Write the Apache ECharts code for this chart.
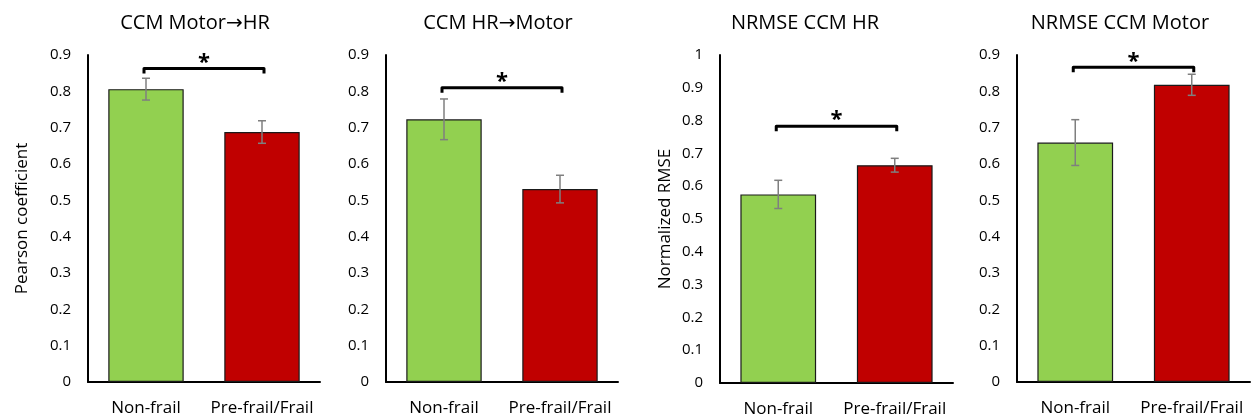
<!DOCTYPE html>
<html>
<head>
<meta charset="utf-8">
<script src="https://cdn.jsdelivr.net/npm/echarts@6/dist/echarts.min.js"></script>
<style>
html,body{margin:0;padding:0;background:#fff;}
#chart{width:1257px;height:420px;}
</style>
</head>
<body>
<div id="chart"></div>
<script>
const categories = ['Non-frail', 'Pre-frail/Frail'];
const panelTitles = ['CCM Motor\u2192HR', 'CCM HR\u2192Motor', 'NRMSE CCM HR', 'NRMSE CCM Motor'];
const yAxisNames = ['Pearson coefficient', '', 'Normalized RMSE', ''];
const yMaxValues = [0.9, 0.9, 1, 0.9];
const barColors = ['#92D050', '#C00000'];

const meansMotorHR = [0.806, 0.688];
const errMotorHR = [0.030, 0.031];
const meansHRMotor = [0.723, 0.531];
const errHRMotor = [0.056, 0.038];
const meansNrmseHR = [0.575, 0.664];
const errNrmseHR = [0.043, 0.021];
const meansNrmseMotor = [0.659, 0.818];
const errNrmseMotor = [0.063, 0.029];
const bracketLevels = [0.863, 0.810, 0.783, 0.866];
const significance = ['*', '*', '*', '*'];

const panelMeans = [meansMotorHR, meansHRMotor, meansNrmseHR, meansNrmseMotor];
const panelErrs = [errMotorHR, errHRMotor, errNrmseHR, errNrmseMotor];

const FONT = '"Open Sans", "Noto Sans", "DejaVu Sans", sans-serif';
const grids = [
  {left: 88, width: 232, top: 55, bottom: 38},
  {left: 386, width: 232, top: 55, bottom: 38},
  {left: 720, width: 233, top: 55, bottom: 37},
  {left: 1017, width: 233, top: 55, bottom: 38}
];
const titleCenters = [190, 493, 800, 1115];
const nameGaps = [57, 0, 46, 0];

const option = {
  animation: false,
  backgroundColor: '#fff',
  title: panelTitles.map((t, i) => ({
    text: t, left: titleCenters[i], top: 8, textAlign: 'center',
    textStyle: {fontFamily: FONT, fontSize: 20, fontWeight: 'normal', color: '#000'}
  })),
  grid: grids,
  xAxis: grids.map((g, i) => ({
    type: 'category', gridIndex: i, data: categories,
    axisLine: {lineStyle: {color: '#000', width: 2}},
    axisTick: {show: false},
    axisLabel: {fontFamily: FONT, fontSize: 17, color: '#000', margin: 18, interval: 0, hideOverlap: false}
  })),
  yAxis: grids.map((g, i) => ({
    type: 'value', gridIndex: i, min: 0, max: yMaxValues[i], interval: 0.1,
    name: yAxisNames[i], nameLocation: 'middle', nameGap: nameGaps[i],
    nameTextStyle: {fontFamily: FONT, fontSize: 17, color: '#000'},
    axisLine: {show: true, lineStyle: {color: '#000', width: 2}},
    axisTick: {show: false},
    splitLine: {show: false},
    axisLabel: {fontFamily: FONT, fontSize: 15, color: '#000', margin: 17}
  })),
  series: []
};

panelMeans.forEach((means, i) => {
  option.series.push({
    type: 'bar', xAxisIndex: i, yAxisIndex: i, barWidth: '65%',
    data: means.map((v, k) => ({value: v, itemStyle: {color: barColors[k]}})),
    itemStyle: {borderColor: '#1a1a1a', borderWidth: 1.2}
  });
  option.series.push({
    type: 'custom', xAxisIndex: i, yAxisIndex: i, z: 5,
    data: means.map((v, k) => [k, v - panelErrs[i][k], v + panelErrs[i][k]]),
    renderItem: function (params, api) {
      const lo = api.coord([api.value(0), api.value(1)]);
      const hi = api.coord([api.value(0), api.value(2)]);
      const hw = 4;
      const st = {stroke: '#7f7f7f', lineWidth: 1.5, fill: null};
      return {type: 'group', children: [
        {type: 'line', shape: {x1: lo[0], y1: lo[1], x2: hi[0], y2: hi[1]}, style: st},
        {type: 'line', shape: {x1: lo[0] - hw, y1: lo[1], x2: lo[0] + hw, y2: lo[1]}, style: st},
        {type: 'line', shape: {x1: hi[0] - hw, y1: hi[1], x2: hi[0] + hw, y2: hi[1]}, style: st}
      ]};
    }
  });
  option.series.push({
    type: 'custom', xAxisIndex: i, yAxisIndex: i, z: 6,
    data: [[0, 1, bracketLevels[i], significance[i]]],
    renderItem: function (params, api) {
      const a = api.coord([api.value(0), api.value(2)]);
      const b = api.coord([api.value(1), api.value(2)]);
      const x1 = a[0] - 2, x2 = b[0] + 2, y = a[1];
      return {type: 'group', children: [
        {type: 'polyline', shape: {points: [[x1, y + 5], [x1, y], [x2, y], [x2, y + 5]]},
          style: {stroke: '#000', lineWidth: 3, fill: null, lineJoin: 'round'}},
        {type: 'text', x: (x1 + x2) / 2, y: y + 5,
          style: {text: api.value(3), fontFamily: FONT, fontSize: 22, fontWeight: 'bold',
            fill: '#000', align: 'center', verticalAlign: 'bottom'}}
      ]};
    }
  });
});

const chart = echarts.init(document.getElementById('chart'), null, {renderer: 'canvas'});
chart.setOption(option);
</script>
</body>
</html>
